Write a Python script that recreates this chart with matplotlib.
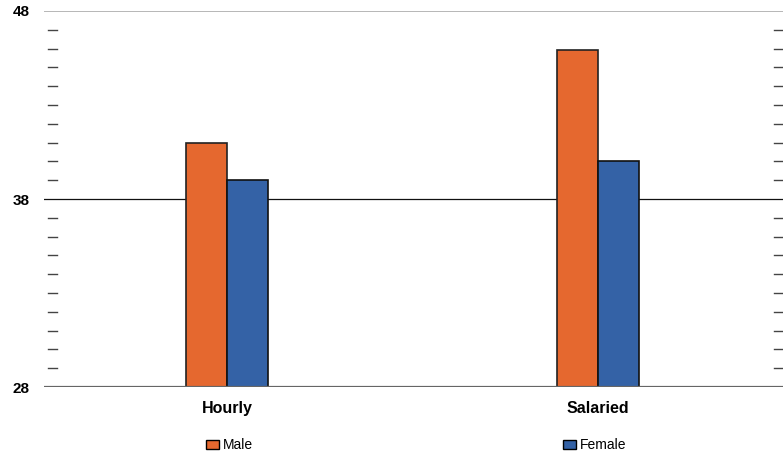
import matplotlib.pyplot as plt
import matplotlib.transforms as mtransforms
from matplotlib.patches import Patch
import numpy as np

plt.rcParams["font.family"] = ["Liberation Sans", "DejaVu Sans"]

categories = ["Hourly", "Salaried"]
male = [41.0, 45.9]
female = [39.0, 40.0]
series_names = ["Male", "Female"]
y_ticks = [28, 38, 48]

orange = "#E5682F"
blue = "#3462A6"

fig = plt.figure(figsize=(7.83, 4.55), dpi=100)
ax = fig.add_axes([44 / 783, 1 - 387 / 455, 1 - 44 / 783, (387 - 11) / 455])

x = np.arange(len(categories))
w = 0.111
ax.bar(x - w / 2, male, w, color=orange, edgecolor="#222222", linewidth=1.2, zorder=3)
ax.bar(x + w / 2, female, w, color=blue, edgecolor="#111111", linewidth=1.2, zorder=3)

ax.set_xlim(-0.493, 1.4986)
ax.set_ylim(28, 48)

for s in ax.spines.values():
    s.set_visible(False)

# horizontal reference lines
ax.axhline(48, color="#aaaaaa", linewidth=1.2, zorder=1)
ax.axhline(38, color="#111111", linewidth=0.9, zorder=1)
ax.axhline(28, color="#666666", linewidth=1.6, zorder=4)

# minor tick marks on both sides
trans = mtransforms.blended_transform_factory(fig.transFigure, ax.transData)
for v in range(29, 48):
    if v == 38:
        continue
    ax.plot([48 / 783, 57 / 783], [v, v], transform=trans, color="#444444", lw=1.0, clip_on=False)
    ax.plot([774 / 783, 1.0], [v, v], transform=trans, color="#444444", lw=1.0, clip_on=False)

ax.set_yticks(y_ticks)
ax.set_yticklabels([str(t) for t in y_ticks], fontsize=11, fontweight="bold")
ax.tick_params(axis="y", length=0, pad=10.5)
ax.set_xticks(x)
ax.set_xticklabels(categories, fontsize=11.5, fontweight="bold")
ax.tick_params(axis="x", length=0, pad=10)

# legend entries placed under each category
for name, col, xpos in [(series_names[0], orange, 206 / 783), (series_names[1], blue, 563 / 783)]:
    fig.legend(handles=[Patch(facecolor=col, edgecolor="black", linewidth=1.0, label=name)],
               loc="center left", bbox_to_anchor=(xpos, 1 - 445 / 455), frameon=False,
               fontsize=10, handlelength=0.95, handleheight=0.6, handletextpad=0.3,
               borderpad=0, borderaxespad=0)

fig.savefig("out.png", dpi=100)
